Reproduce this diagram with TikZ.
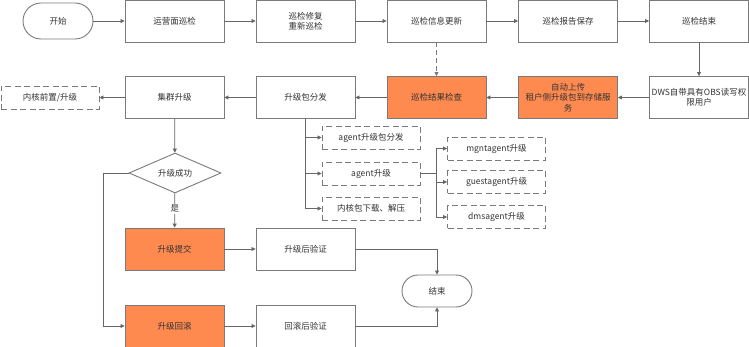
\documentclass[tikz,border=0pt]{standalone}
\usepackage{fontspec}
\setmainfont{Noto Sans CJK SC}
\usetikzlibrary{shapes.geometric,arrows.meta}
\definecolor{boxgray}{HTML}{7A7A7A}
\definecolor{linegray}{HTML}{666666}
\definecolor{txt}{HTML}{333333}
\definecolor{orange}{HTML}{FF8A50}
\begin{document}
\begin{tikzpicture}[x=1pt,y=-1pt,
  box/.style={draw=boxgray, line width=0.9pt, minimum width=99pt, minimum height=42pt,
    inner sep=1pt, align=center, font=\fontsize{8.5}{10.5}\selectfont, text=txt, fill=white},
  obox/.style={box, fill=orange},
  dbox/.style={draw=boxgray, line width=0.9pt, dash pattern=on 6pt off 3.5pt, minimum width=98pt,
    minimum height=23pt, inner sep=1pt, align=center, font=\fontsize{8.5}{10}\selectfont, text=txt},
  pill/.style={draw=boxgray, line width=0.9pt, rounded corners=18pt, minimum width=70pt,
    minimum height=36pt, font=\fontsize{8.5}{10}\selectfont, text=txt},
  dec/.style={diamond, draw=boxgray, line width=0.9pt, minimum width=92pt, minimum height=40pt,
    inner sep=0pt, aspect=2.3, font=\fontsize{8.5}{10}\selectfont, text=txt},
  arr/.style={draw=linegray, line width=0.75pt, -{Triangle[length=4pt,width=4pt]}},
  ln/.style={draw=linegray, line width=0.75pt}
]
\useasboundingbox (0,0) rectangle (749,347);
\fill[white] (0,0) rectangle (749,347);
% row 1
\node[pill] (start) at (58,21) {开始};
\node[box] (a1) at (174.5,21) {运营面巡检};
\node[box] (a2) at (305.5,21) {巡检修复\\重新巡检};
\node[box] (a3) at (436.5,21) {巡检信息更新};
\node[box] (a4) at (568,21) {巡检报告保存};
\node[box] (a5) at (699,21) {巡检结束};
% row 2
\node[dbox] (kern) at (50,97.5) {内核前置/升级};
\node[box] (clus) at (174.5,97.5) {集群升级};
\node[box] (dist) at (305.5,97.5) {升级包分发};
\node[obox] (chk) at (436.5,97.5) {巡检结果检查};
\node[obox] (auto) at (568,97.5) {自动上传\\租户侧升级包到存储服\\务};
\node[box] (dws) at (699,97.5) {DWS自带具有OBS读写权\\限用户};
% dashed column 1
\node[dbox] (d1) at (371,137.5) {agent升级包分发};
\node[dbox] (d2) at (371,173.5) {agent升级};
\node[dbox] (d3) at (371,208.5) {内核包下载、解压};
% dashed column 2
\node[dbox] (e1) at (496.5,148.5) {mgntagent升级};
\node[dbox] (e2) at (496.5,182) {guestagent升级};
\node[dbox] (e3) at (496.5,217) {dmsagent升级};
% decision part
\node[dec] (ok) at (175,173) {升级成功};
\node[obox] (commit) at (174.5,249) {升级提交};
\node[box] (v1) at (305.5,249) {升级后验证};
\node[obox] (roll) at (174.5,326) {升级回滚};
\node[box] (v2) at (305.5,326) {回滚后验证};
\node[pill, minimum height=32pt, rounded corners=16pt] (end) at (437,291) {结束};
% connectors row 1
\draw[arr] (start) -- (a1);
\draw[arr] (a1) -- (a2);
\draw[arr] (a2) -- (a3);
\draw[arr] (a3) -- (a4);
\draw[arr] (a4) -- (a5);
\draw[arr] (a5) -- (dws);
\draw[arr, dash pattern=on 5pt off 3pt, draw=boxgray] (a3) -- (chk);
% row 2
\draw[arr] (dws) -- (auto);
\draw[arr] (auto) -- (chk);
\draw[arr] (chk) -- (dist);
\draw[arr] (dist) -- (clus);
\draw[arr] (clus) -- (kern);
% distribution branches
\draw[arr] (dist.south) |- (d1.west);
\draw[arr] (dist.south) |- (d2.west);
\draw[arr] (dist.south) |- (d3.west);
\coordinate (j) at (436,173.5);
\draw[ln] (d2.east) -- (j);
\draw[arr] (j) |- (e1.west);
\draw[arr] (j) |- (e2.west);
\draw[arr] (j) |- (e3.west);
% decision
\draw[arr] (clus) -- (ok);
\draw[arr] (ok) -- node[fill=white, inner sep=1.5pt, font=\fontsize{8.5}{10}\selectfont, text=txt, pos=0.45] {是} (commit);
\coordinate (lft) at (103,173);
\draw[ln] (ok.west) -- (lft);
\draw[arr] (lft) |- (roll.west);
\draw[arr] (commit) -- (v1);
\draw[arr] (roll) -- (v2);
\draw[arr] (v1.east) -| (end.north);
\draw[arr] (v2.east) -| (end.south);
\end{tikzpicture}
\end{document}
